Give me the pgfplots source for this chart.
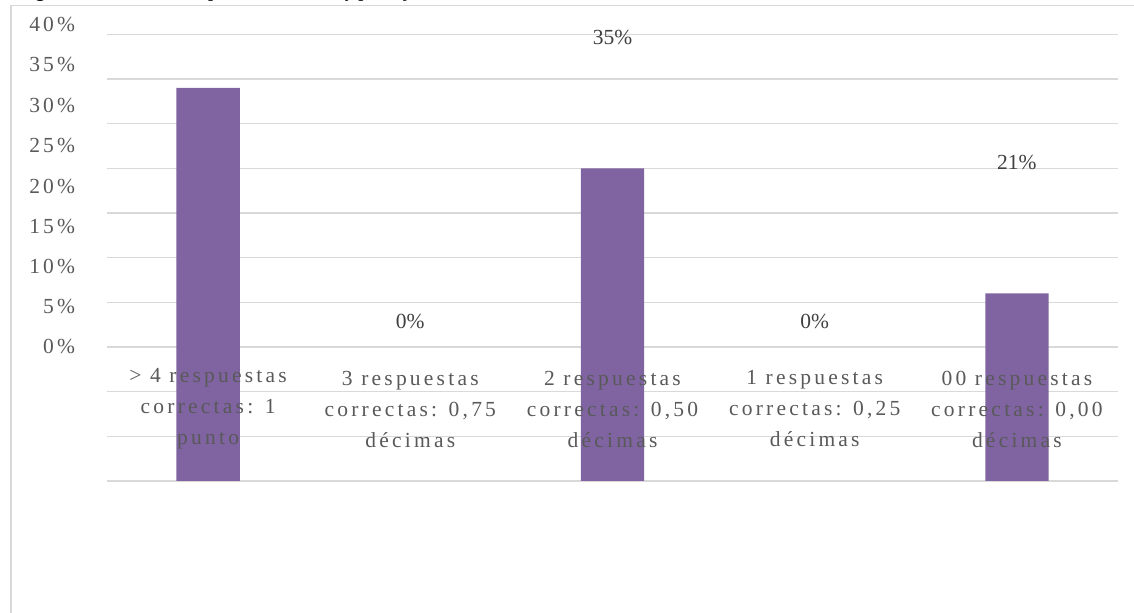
\documentclass[border=0pt]{standalone}
\usepackage{fontspec}
\setmainfont{Liberation Serif}
\newfontfamily\spaced[LetterSpace=15]{Liberation Serif}
\usepackage{pgfplots}
\pgfplotsset{compat=1.18}
\definecolor{barpurple}{HTML}{8064A2}
\definecolor{gridgray}{HTML}{D9D9D9}
\definecolor{labgray}{HTML}{595959}
\definecolor{datgray}{HTML}{404040}
\begin{document}
\begin{tikzpicture}
\node[anchor=base west, font=\fontsize{9}{11}\selectfont\bfseries, inner sep=0pt] at (9.75pt,1pt) {Figura 1. Número de respuestas correctas y puntaje};
\draw[gridgray, line width=0.7pt] (5pt,-2.75pt) -- (567pt,-2.75pt);
\draw[gridgray, line width=0.7pt] (5.5pt,-2.75pt) -- (5.5pt,-306.5pt);
\begin{axis}[
  set layers,
  at={(53.5pt,-240.5pt)}, anchor=south west,
  scale only axis, width=505.5pt, height=232.3pt,
  xmin=-0.5, xmax=4.5, ymin=0, ymax=52,
  axis line style={draw=none}, major tick length=0pt, minor tick length=0pt,
  xtick={0,1,2,3,4},
  xticklabels={{> 4 respuestas\\correctas: 1\\punto},{3 respuestas\\correctas: 0,75\\décimas},{2 respuestas\\correctas: 0,50\\décimas},{1 respuestas\\correctas: 0,25\\décimas},{00 respuestas\\correctas: 0,00\\décimas}},
  xticklabel style={font=\spaced\fontsize{10.75}{15.5}\selectfont, text=labgray, align=center, anchor=center, yshift=36pt},
  ytick={15.0,19.5,24.0,28.5,33.0,37.5,42.0,46.6,51.1},
  yticklabels={0\%,5\%,10\%,15\%,20\%,25\%,30\%,35\%,40\%},
  yticklabel style={font=\spaced\fontsize{10.75}{13}\selectfont, text=labgray, anchor=east, xshift=-12.4pt},
  extra y ticks={0,5,10,15,20,25,30,35,40,45,50},
  extra y tick labels={},
  extra y tick style={grid=major},
  major grid style={gridgray, line width=0.75pt},
  clip=false,
]
\addplot[ybar, bar width=31.65pt, fill=barpurple, draw=none, on layer=axis ticks] coordinates {(0,44) (2,35) (4,21)};
\addplot[only marks, mark=none, nodes near coords, point meta=explicit symbolic,
  nodes near coords style={font=\fontsize{10.75}{13}\selectfont, text=datgray, anchor=center}]
  coordinates {(1,17.8)[0\%] (2,49.6)[35\%] (3,17.8)[0\%] (4,35.7)[21\%]};
\end{axis}
\pgfresetboundingbox
\path[use as bounding box] (0,0) rectangle (567pt,-306.5pt);
\end{tikzpicture}
\end{document}
